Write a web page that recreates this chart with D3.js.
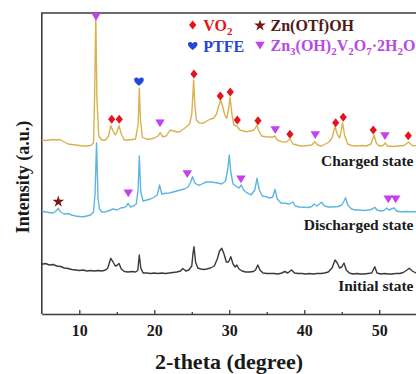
<!DOCTYPE html>
<html>
<head>
<meta charset="utf-8">
<script src="https://cdn.jsdelivr.net/npm/d3@7"></script>
<style>
  html, body { margin: 0; padding: 0; background: #ffffff; }
  svg { display: block; }
  text { font-family: "Liberation Serif", "Times New Roman", serif; font-weight: bold; }
</style>
</head>
<body>
<svg id="chart" width="416" height="374"></svg>
<script>
// XRD patterns, [2-theta (deg), intensity (a.u., stacked offsets)]
const initialState = [
  [5.0,49.7],[5.5,50.5],[6.0,49],[6.5,49.5],[7.0,48],[7.5,47.5],[8.0,46],[8.5,45.5],[9.0,44.5],[9.5,44],
  [10.0,43.5],[10.5,44],[11.0,43],[11.5,43.5],[12.0,43],[12.5,43.5],[13.0,43],[13.5,44],[13.8,46],[14.0,51],
  [14.2,55.7],[14.5,52],[14.8,48],[15.0,48.5],[15.3,50.5],[15.6,45],[16.0,42.5],[16.5,42],[17.0,42.5],[17.5,42],
  [17.8,43.5],[18.0,59],[18.2,46],[18.5,41],[19.0,41],[19.5,40.5],[20.0,41],[20.5,40.5],[21.0,41],[21.5,40.5],
  [22.0,41],[22.5,41.5],[23.0,42],[23.5,43],[23.8,45.5],[24.2,43],[24.6,44],[25.0,48],[25.15,60],[25.3,67.3],
  [25.5,52],[25.8,46],[26.2,45],[26.6,44.5],[27.0,45],[27.5,46],[28.0,48],[28.4,55],[28.7,63],[29.0,65.7],
  [29.3,60],[29.6,52],[29.9,52],[30.2,57.3],[30.5,50],[30.8,47],[31.0,49],[31.3,45],[31.7,43],[32.2,42],
  [32.7,42],[33.2,42.5],[33.5,44],[33.8,49],[34.1,44],[34.5,41],[35.0,40.5],[35.5,40.5],[36.0,40.5],[36.5,40],
  [37.0,41],[37.4,42.5],[37.8,41],[38.3,44],[38.7,41],[39.2,40.5],[39.7,40.5],[40.2,40],[40.7,40.5],[41.2,40],
  [41.7,40.5],[42.2,40.5],[42.7,41],[43.2,42],[43.7,46],[44.1,54],[44.4,51],[44.7,46],[45.0,47],[45.3,51],
  [45.6,44],[46.0,41],[46.5,40],[47.0,40.5],[47.5,40],[48.0,40],[48.5,40.5],[49.0,41],[49.4,47.3],[49.7,41],
  [50.2,40],[50.7,40.5],[51.2,40],[51.7,40],[52.2,40.5],[52.7,40.5],[53.2,41.5],[53.7,44],[54.0,45.7],[54.4,43],
  [55.0,40.7],[55.3,40]
];

const dischargedState = [
  [5.0,103],[5.5,102],[6.0,101.5],[6.5,101],[6.9,103],[7.2,105.7],[7.5,102],[8.0,100],[8.5,100.5],[9.0,99],
  [9.5,98],[10.0,97.5],[10.5,97.3],[11.0,98],[11.5,99],[11.9,102],[12.1,120],[12.3,171],[12.5,115],[12.7,105],
  [13.0,102],[13.6,102.3],[14.0,103.5],[14.5,105],[15.0,104],[15.5,106],[16.0,106.5],[16.3,108],[16.5,110.7],[16.8,107],
  [17.2,108],[17.6,110],[17.85,125],[18.0,158],[18.2,122],[18.5,113],[19.0,114],[19.5,115],[20.0,117],[20.4,119],
  [20.7,129],[21.0,120],[21.5,120.7],[22.0,121],[22.5,122],[23.0,123],[23.5,124],[24.0,125],[24.5,127],[24.8,131],
  [25.1,137.3],[25.4,131],[25.8,129],[26.1,129],[26.6,131],[27.0,132],[27.5,132],[28.0,131.5],[28.5,131],[29.0,130],
  [29.5,133],[29.8,145],[30.0,159],[30.2,142],[30.5,130],[31.0,127.3],[31.3,126],[31.6,129],[31.9,124],[32.2,122],
  [32.5,120.7],[32.9,119],[33.4,124],[33.7,135.7],[34.0,124],[34.4,118],[34.9,117.3],[35.4,116],[35.8,117],[36.1,124.7],
  [36.4,115],[36.9,111],[37.5,110.7],[38.0,110],[38.5,112],[38.8,108],[39.3,107],[40.0,106.7],[40.5,106.5],[41.0,107.5],
  [41.3,110],[41.7,108],[42.3,111.7],[42.7,108],[43.2,107],[43.8,107],[44.5,107.5],[45.0,109],[45.3,113],[45.5,116.3],
  [45.8,109],[46.3,105],[46.8,104],[47.4,104],[48.0,103.5],[48.6,104],[49.1,105],[49.4,106.7],[49.7,104],[50.2,103],
  [50.6,103.5],[51.0,106],[51.3,104],[51.6,105],[52.0,106],[52.3,103],[52.8,102.3],[53.5,102.5],[54.2,102.3],[55.3,102.3]
];

const chargedState = [
  [5.0,174],[5.5,173.5],[6.0,174],[6.5,174.5],[7.0,174],[7.4,174.5],[8.0,172],[8.5,170],[9.0,169.5],[9.5,169],
  [10.0,168.5],[10.5,168],[11.0,168],[11.5,168.5],[11.9,171],[12.05,220],[12.2,300],[12.35,215],[12.6,178],[13.0,174],
  [13.5,174],[13.9,178],[14.2,188.3],[14.5,183],[14.8,179],[15.0,182],[15.3,188.3],[15.6,180],[16.0,174],[16.5,174],
  [17.0,174.5],[17.5,175],[17.85,190],[18.0,225.7],[18.15,195],[18.4,177],[19.0,174.7],[19.5,175],[20.0,176],[20.5,178],
  [20.8,181.3],[21.1,177.3],[21.6,178],[22.1,184],[22.6,183],[23.0,182],[23.4,182.3],[23.9,185],[24.3,187.3],[24.7,190],
  [25.0,200],[25.15,220],[25.25,234],[25.4,210],[25.6,194],[26.0,191],[26.5,190.7],[27.0,193],[27.5,195],[27.9,195.7],
  [28.3,200],[28.6,208],[28.85,214],[29.1,208],[29.4,199],[29.65,195.7],[29.9,205],[30.1,216.7],[30.35,200],[30.6,189],
  [31.0,188],[31.4,184],[31.9,183],[32.3,182.3],[32.8,183],[33.3,184],[33.55,187],[33.7,189],[33.9,184],[34.3,178],
  [34.8,177.3],[35.3,177],[35.8,177],[36.1,178],[36.4,174],[37.0,172.3],[37.6,172],[38.1,175],[38.5,170],[39.0,169],
  [39.5,168],[39.9,168],[40.5,168.5],[41.0,169],[41.4,172.3],[41.8,169],[42.3,168],[42.8,170],[43.3,172],[43.7,176],
  [44.1,187.3],[44.45,179],[44.7,176],[44.9,182],[45.1,191.3],[45.4,178],[45.8,170],[46.3,168.5],[47.0,168],[47.7,168.5],
  [48.3,168],[48.9,170],[49.3,179],[49.6,171],[50.0,168],[50.5,168.5],[50.8,171],[51.1,168],[51.8,167.5],[52.5,168],
  [53.3,168.5],[53.9,172],[54.4,168.5],[55.0,168],[55.3,168]
];

// phase markers, [2-theta, intensity]
const vo2Marks = [
  [14.32,194.7],[15.33,194.7],[25.29,240],[28.8,218],[30.13,222],[31.07,194],
  [33.83,193.3],[38.09,179.7],[44.19,191.3],[45.2,196.7],[49.2,184],[53.87,178.3]
];
const ptfeMarks = [[17.96,232.3]];
const zincVanadateMarks = [
  [12.23,297.3],[20.76,190.7],[36.13,184],[41.47,179],[50.76,178],
  [16.53,120.7],[24.4,140],[31.56,134.7],[51.2,114.7],[52.19,114.7]
];
const triflateMarks = [[7.2,112.3]];

const majorTicks = [10, 20, 30, 40, 50];
const minorTicks = [15, 25, 35, 45];
const stateNames = ["Charged state", "Discharged state", "Initial state"];
const stateLabelLevels = [148, 84.5, 23];

const colors = {
  charged: "#d9b250",
  discharged: "#5cb6e2",
  initial: "#3a3a3a",
  vo2: "#e3141c",
  ptfe: "#2447d6",
  vanadate: "#c442ee",
  triflate: "#7a1616",
  axis: "#3c3c3c"
};

const svg = d3.select("#chart");
const x = d3.scaleLinear().domain([5, 55.3]).range([41.8, 419]);
const y = d3.scaleLinear().domain([0, 301]).range([314, 13]);

// frame: left and top edges
svg.append("path")
  .attr("d", `M${x(55.3)},${y(301)}H${x(5)}V${y(0)}`)
  .attr("fill", "none").attr("stroke", colors.axis).attr("stroke-width", 1.6);

// bottom axis with inward ticks
const xAxis = svg.append("g")
  .attr("transform", `translate(0,${y(0)})`)
  .call(d3.axisBottom(x).tickValues(majorTicks).tickSize(-4).tickSizeOuter(0).tickPadding(11).tickFormat(d3.format("d")));
xAxis.select(".domain").attr("stroke", colors.axis).attr("stroke-width", 1.6);
xAxis.selectAll(".tick line").attr("stroke", colors.axis).attr("stroke-width", 1.3);
xAxis.selectAll(".tick text")
  .attr("font-family", "'Liberation Serif', serif").attr("font-weight", "bold")
  .attr("font-size", 16).attr("fill", "#1a1a1a");

svg.append("g")
  .attr("transform", `translate(0,${y(0)})`)
  .call(d3.axisBottom(x).tickValues(minorTicks).tickSize(-2).tickSizeOuter(0).tickFormat(""))
  .call(g => g.select(".domain").remove())
  .selectAll(".tick line").attr("stroke", colors.axis).attr("stroke-width", 1.3);

// patterns
const line = d3.line().x(d => x(d[0])).y(d => y(d[1]));
[[initialState, colors.initial], [dischargedState, colors.discharged], [chargedState, colors.charged]]
  .forEach(([data, c]) => {
    svg.append("path").datum(data)
      .attr("d", line).attr("fill", "none")
      .attr("stroke", c).attr("stroke-width", 1.4).attr("stroke-linejoin", "round");
  });

// marker shapes
const shapes = {
  diamond: "M0,-4.5L3.6,0L0,4.5L-3.6,0Z",
  heart: "M0,4C-2.2,2.2 -4.8,0.3 -4.8,-1.8C-4.8,-4.4 -1.8,-5 0,-2.6C1.8,-5 4.8,-4.4 4.8,-1.8C4.8,0.3 2.2,2.2 0,4Z",
  triangle: "M-4.8,-3.8L4.8,-3.8L0,4Z",
  star: d3.symbol(d3.symbolStar, 42)()
};

function drawMarks(data, shape, color) {
  svg.append("g").selectAll("path").data(data).join("path")
    .attr("transform", d => `translate(${x(d[0])},${y(d[1])})`)
    .attr("d", shapes[shape]).attr("fill", color);
}
drawMarks(vo2Marks, "diamond", colors.vo2);
drawMarks(ptfeMarks, "heart", colors.ptfe);
drawMarks(zincVanadateMarks, "triangle", colors.vanadate);
drawMarks(triflateMarks, "star", colors.triflate);

// state labels
svg.append("g").selectAll("text").data(stateNames).join("text")
  .attr("x", 413.5).attr("y", (d, i) => y(stateLabelLevels[i]))
  .attr("text-anchor", "end").attr("font-size", 15.5).attr("fill", "#1a1a1a")
  .text(d => d);

// legend
const legendRows = [
  { shape: "diamond", color: colors.vo2, x: 192.7, y: 25, parts: [["VO", 0], ["2", 1]] },
  { shape: "star", color: colors.triflate, x: 260, y: 25.5, parts: [["Zn(OTf)OH", 0]], textColor: "#4e1a1a" },
  { shape: "heart", color: colors.ptfe, x: 192.7, y: 46, parts: [["PTFE", 0]] },
  { shape: "triangle", color: colors.vanadate, x: 260, y: 45.5,
    parts: [["Zn", 0], ["3", 1], ["(OH)", 0], ["2", 1], ["V", 0], ["2", 1], ["O", 0], ["7", 1], ["·2H", 0], ["2", 1], ["O", 0]],
    textColor: "#b84ae0" }
];
legendRows.forEach(r => {
  svg.append("path").attr("transform", `translate(${r.x},${r.y})`)
    .attr("d", shapes[r.shape]).attr("fill", r.color);
  const t = svg.append("text")
    .attr("x", r.x + 10.5).attr("y", r.y + 5.5)
    .attr("font-size", 16).attr("fill", r.textColor || r.color);
  // subscripts drop by 4px, following text returns to the baseline
  r.parts.forEach(([s, sub], i) => {
    const prev = i > 0 ? r.parts[i - 1][1] : 0;
    const ts = t.append("tspan").text(s)
      .attr("dy", sub && !prev ? 4 : (!sub && prev ? -4 : 0));
    if (sub) ts.attr("font-size", 11);
  });
});

// axis titles
svg.append("text")
  .attr("x", 229).attr("y", 369)
  .attr("text-anchor", "middle").attr("font-size", 22).attr("fill", "#1a1a1a")
  .text("2-theta (degree)");
svg.append("text")
  .attr("transform", "translate(29,177) rotate(-90)")
  .attr("text-anchor", "middle").attr("font-size", 18).attr("fill", "#1a1a1a")
  .text("Intensity (a.u.)");
</script>
</body>
</html>
